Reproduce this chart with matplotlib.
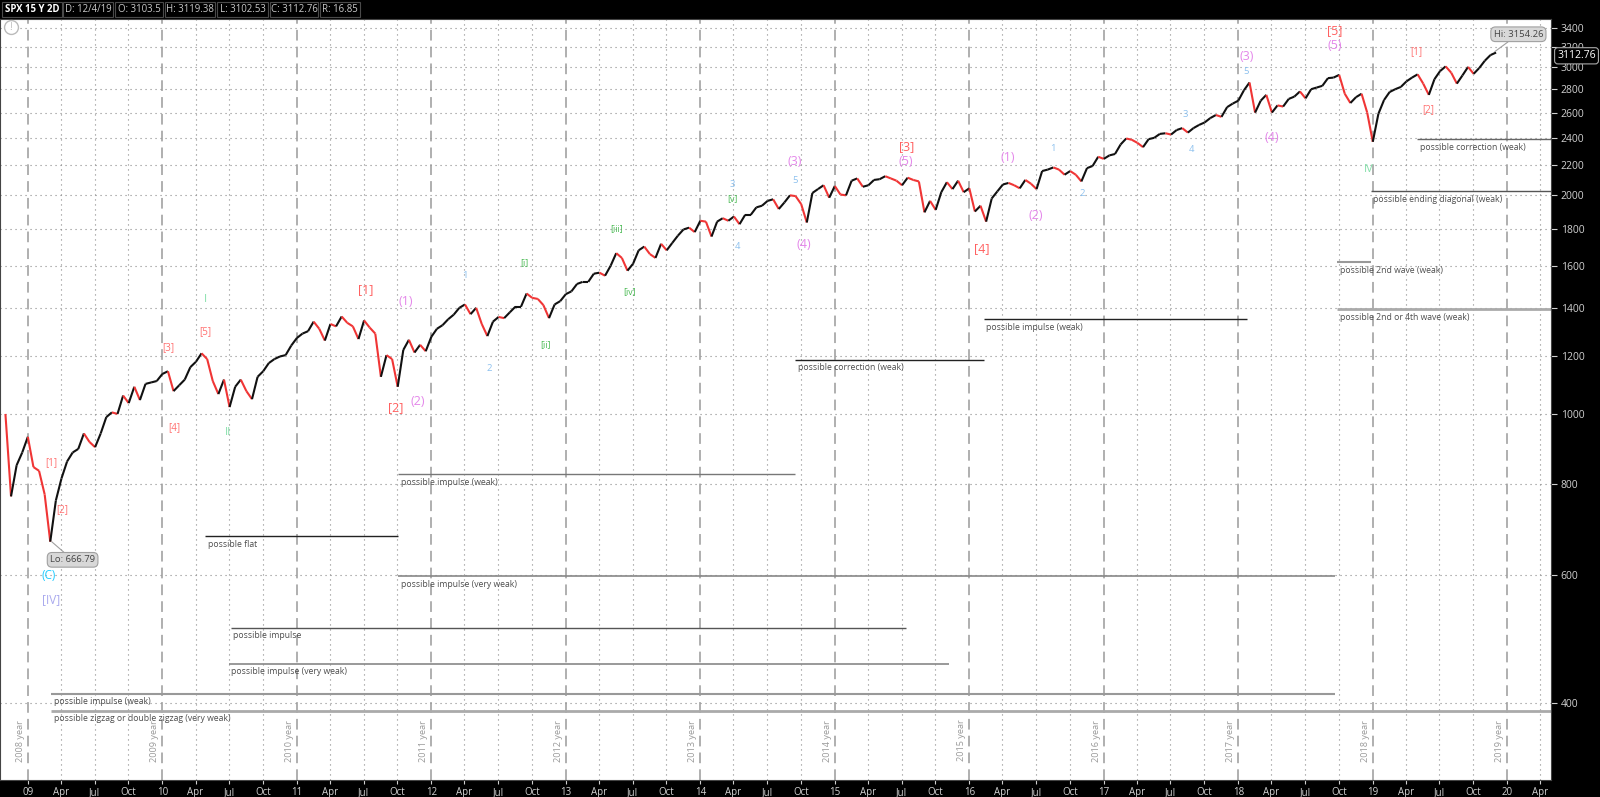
import numpy as np
import matplotlib.pyplot as plt
from matplotlib.collections import LineCollection
from matplotlib.patches import Rectangle
from matplotlib.ticker import NullLocator

plt.rcParams['font.family'] = ['Open Sans', 'DejaVu Sans']

spx_2008 = [1000, 770, 850, 885]
spx_2009 = [930, 845, 835, 775, 667, 760, 815, 860, 885, 895, 940, 915,
            900, 940, 990, 1005, 1000, 1060, 1035, 1090, 1045, 1100, 1105, 1110]
spx_2010 = [1135, 1145, 1075, 1095, 1115, 1160, 1180, 1212, 1190, 1110, 1065, 1115,
            1022, 1090, 1115, 1075, 1048, 1125, 1145, 1175, 1190, 1200, 1205, 1242]
spx_2011 = [1272, 1290, 1300, 1340, 1310, 1262, 1330, 1320, 1362, 1335, 1320, 1268,
            1345, 1315, 1290, 1125, 1205, 1190, 1090, 1225, 1265, 1215, 1245, 1220]
spx_2012 = [1277, 1310, 1325, 1350, 1370, 1400, 1415, 1372, 1400, 1330, 1280, 1340,
            1360, 1355, 1380, 1405, 1405, 1465, 1445, 1440, 1412, 1355, 1415, 1430]
spx_2013 = [1462, 1475, 1510, 1520, 1520, 1560, 1565, 1550, 1600, 1665, 1640, 1575,
            1610, 1680, 1700, 1660, 1640, 1715, 1680, 1720, 1760, 1795, 1805, 1780]
spx_2014 = [1845, 1840, 1755, 1840, 1860, 1845, 1870, 1825, 1880, 1880, 1925, 1935,
            1965, 1975, 1915, 1955, 2000, 1995, 1945, 1835, 2015, 2040, 2065, 1985]
spx_2015 = [2060, 2005, 2000, 2095, 2110, 2055, 2065, 2100, 2105, 2125, 2110, 2095,
            2065, 2115, 2100, 2090, 1895, 1965, 1910, 2020, 2085, 2040, 2095, 2020]
spx_2016 = [2045, 1900, 1935, 1840, 1980, 2025, 2070, 2080, 2065, 2045, 2100, 2075,
            2040, 2160, 2170, 2185, 2170, 2135, 2160, 2135, 2090, 2180, 2195, 2260]
spx_2017 = [2245, 2270, 2280, 2350, 2395, 2385, 2362, 2330, 2390, 2400, 2430, 2435,
            2425, 2460, 2475, 2440, 2475, 2500, 2520, 2555, 2580, 2565, 2645, 2675]
spx_2018 = [2700, 2790, 2860, 2600, 2700, 2750, 2600, 2660, 2650, 2715, 2735, 2780,
            2720, 2800, 2815, 2830, 2900, 2905, 2930, 2760, 2680, 2730, 2760, 2600]
spx_2019 = [2370, 2590, 2705, 2775, 2800, 2820, 2870, 2905, 2935, 2850, 2750, 2890,
            2965, 3010, 2950, 2850, 2925, 3005, 2940, 2995, 3065, 3120, 3145]

price_levels = [400, 600, 800, 1000, 1200, 1400, 1600, 1800, 2000, 2200, 2400,
                2600, 2800, 3000, 3200, 3400]
grid_years = list(range(2009, 2021))
quarter_names = ['Apr', 'Jul', 'Oct']
quarter_pos = [0.2466, 0.4959, 0.7479]

lo_value, lo_time = 666.79, 2009.178
hi_value, hi_time = 3154.26, 2019.907
last_close = 3112.76

header_text = ['SPX 15 Y 2D', 'D: 12/4/19', 'O: 3103.5', 'H: 3119.38',
               'L: 3102.53', 'C: 3112.76', 'R: 16.85']
header_left = [2, 63, 115, 165, 217, 270, 320]
header_right = [62, 113, 163, 215, 268, 318, 360]

# wave labels: text, time, price
red_small = [('[1]', 2009.173, 856), ('[2]', 2009.256, 738), ('[3]', 2010.045, 1235),
             ('[4]', 2010.091, 959), ('[5]', 2010.318, 1300),
             ('[1]', 2019.324, 3159), ('[2]', 2019.415, 2626)]
red_big = [('[1]', 2011.509, 1485), ('[2]', 2011.737, 1020), ('[3]', 2015.531, 2338),
           ('[4]', 2016.092, 1690), ('[5]', 2018.717, 3371)]
violet = [('(1)', 2011.813, 1429), ('(2)', 2011.896, 1040), ('(3)', 2014.704, 2227),
          ('(4)', 2014.772, 1713), ('(5)', 2015.531, 2227), ('(1)', 2016.289, 2256),
          ('(2)', 2016.494, 1876), ('(3)', 2018.065, 3108), ('(4)', 2018.247, 2406),
          ('(5)', 2018.717, 3221)]
blue = [('1', 2012.253, 1549), ('2', 2012.427, 1154), ('3', 2014.241, 2067),
        ('4', 2014.279, 1702), ('5', 2014.704, 2094), ('1', 2016.623, 2322),
        ('2', 2016.843, 2014), ('3', 2017.602, 2585), ('4', 2017.655, 2315),
        ('5', 2018.057, 2961)]
green = [('[i]', 2012.693, 1616), ('[ii]', 2012.852, 1247), ('[iii]', 2013.376, 1798),
         ('[iv]', 2013.475, 1476), ('[v]', 2014.241, 1982)]
mint = [('I', 2010.318, 1438), ('II', 2010.485, 944), ('III', 2018.717, 3573),
        ('IV', 2018.967, 2170)]

# pattern lines: label, start, end, price, colour, width
t_end = 2020.33
pattern_lines = [
    ('possible flat', 2010.318, 2011.752, 679, '#222222', 1.0),
    ('possible impulse (weak)', 2011.752, 2014.704, 826, '#777777', 1.0),
    ('possible impulse (very weak)', 2011.752, 2018.717, 598, '#888888', 1.2),
    ('possible impulse', 2010.508, 2015.531, 508, '#555555', 1.0),
    ('possible impulse (very weak)', 2010.493, 2015.849, 453, '#888888', 1.2),
    ('possible impulse (weak)', 2009.173, 2018.717, 412, '#999999', 1.5),
    ('possible zigzag or double zigzag (very weak)', 2009.173, t_end, 390, '#aaaaaa', 2.0),
    ('possible correction (weak)', 2014.704, 2016.107, 1188, '#222222', 1.0),
    ('possible impulse (weak)', 2016.107, 2018.065, 1351, '#222222', 1.0),
    ('possible 2nd or 4th wave (weak)', 2018.732, t_end, 1393, '#aaaaaa', 2.0),
    ('possible 2nd wave (weak)', 2018.732, 2018.983, 1617, '#999999', 1.5),
    ('possible ending diagonal (weak)', 2018.983, t_end, 2026, '#555555', 1.0),
    ('possible correction (weak)', 2019.332, t_end, 2389, '#666666', 1.0),
]

closes = np.array(spx_2008 + spx_2009 + spx_2010 + spx_2011 + spx_2012 + spx_2013
                  + spx_2014 + spx_2015 + spx_2016 + spx_2017 + spx_2018 + spx_2019,
                  dtype=float)
t = 2008 + 10 / 12 + np.arange(len(closes)) / 24

fig = plt.figure(figsize=(16, 7.97), dpi=100, facecolor='black')
ax = fig.add_axes([0, 17 / 797, 1551 / 1600, 761 / 797])
ax.set_facecolor('white')
ax.set_yscale('log')
ax.set_xlim(2008.793, 2020.325)
ax.set_ylim(313.3, 3498)

# grid
for p in price_levels:
    ax.axhline(p, color='#8a8a8a', ls=(0, (1, 3.5)), lw=0.8, zorder=1)
for yr in range(2008, 2021):
    for q in quarter_pos:
        ax.axvline(yr + q, color='#8a8a8a', ls=(0, (1, 3.5)), lw=0.8, zorder=1)
for yr in grid_years:
    ax.axvline(yr, color='#9a9a9a', ls=(0, (7, 4)), lw=1.1, zorder=1)
    ax.text(yr - 0.055, 355, '%d year' % (yr - 1), rotation=90, ha='center',
            va='center', fontsize=6.6, color='#999999')

# price line, red when falling
pts = np.column_stack([t, closes])
segs = np.stack([pts[:-1], pts[1:]], axis=1)
cols = np.where(np.diff(closes) < 0, '#f03535', '#111111')
ax.add_collection(LineCollection(segs, colors=cols, linewidths=1.5, zorder=3))

# pattern lines
for label, x0, x1, y, c, lw in pattern_lines:
    ax.hlines(y, x0, x1, colors=c, lw=lw, zorder=2)
    ax.annotate(label, (x0, y), xytext=(2, -2.5), textcoords='offset points',
                ha='left', va='top', fontsize=6.2, color='#4d4d4d', zorder=4)

# wave labels
def put(labels, color, size):
    for s, x, y in labels:
        ax.text(x, y, s, color=color, fontsize=size, ha='center', va='center',
                clip_on=True, zorder=5)

put(red_small, '#ff7070', 7)
put(red_big, '#ff6060', 9)
put(violet, '#e487ea', 9)
put(blue, '#8cc0ee', 6.8)
put(green, '#45b84f', 6.3)
put(mint, '#85e0aa', 8)
ax.text(2009.157, 600, '(C)', color='#22ccff', fontsize=8.5, ha='center', va='center')
ax.text(2009.173, 555, '[IV]', color='#a9a9ee', fontsize=8.5, ha='center', va='center')

# hi / lo callouts
box = dict(boxstyle='round,pad=0.3,rounding_size=0.5', fc='#d8d8d8', ec='#a0a0a0', lw=0.8)
ax.annotate('Lo: %.2f' % lo_value, (lo_time, lo_value), xytext=(15, -13),
            textcoords='offset points', ha='center', va='center', fontsize=6.8,
            color='#444444', bbox=box, zorder=6,
            arrowprops=dict(arrowstyle='-', color='#a0a0a0', lw=0.8, shrinkA=0, shrinkB=0))
ax.annotate('Hi: %.2f' % hi_value, (hi_time, hi_value), xytext=(17, 12.5),
            textcoords='offset points', ha='center', va='center', fontsize=6.8,
            color='#444444', bbox=box, zorder=6,
            arrowprops=dict(arrowstyle='-', color='#a0a0a0', lw=0.8, shrinkA=0, shrinkB=0))

# alert icon top-left
ax.plot([0.007], [0.989], marker='o', ms=10, mfc='white', mec='#bbbbbb', mew=1,
        transform=ax.transAxes, clip_on=False, zorder=6)
ax.text(0.007, 0.989, '!', transform=ax.transAxes, ha='center', va='center',
        fontsize=7, color='#bbbbbb', zorder=7)

# axes styling
ax.yaxis.tick_right()
ax.yaxis.set_minor_locator(NullLocator())
ax.set_yticks(price_levels)
ax.set_yticklabels([str(p) for p in price_levels])
ax.tick_params(axis='y', colors='#d0d0d0', labelsize=7.5, length=4, pad=3)

xt, xl = [], []
for yr in range(2009, 2021):
    xt.append(yr)
    xl.append('%02d' % (yr % 100))
    for q, name in zip(quarter_pos, quarter_names):
        if yr + q < 2020.32:
            xt.append(yr + q)
            xl.append(name)
ax.xaxis.set_minor_locator(NullLocator())
ax.set_xticks(xt)
ax.set_xticklabels(xl)
ax.tick_params(axis='x', colors='#d0d0d0', labelsize=7, length=3, pad=2)
for sp in ax.spines.values():
    sp.set_color('#444444')

# last close tag on the price axis
ax.annotate('%.2f' % last_close, (1.004, last_close), xycoords=('axes fraction', 'data'),
            ha='left', va='center', fontsize=7.5, color='white', zorder=8,
            annotation_clip=False,
            bbox=dict(boxstyle='round,pad=0.25,rounding_size=0.3', fc='black',
                      ec='#aaaaaa', lw=0.8))

# header bar
for i, (s, x0, x1) in enumerate(zip(header_text, header_left, header_right)):
    fig.patches.append(Rectangle((x0 / 1600, 1 - 17 / 797), (x1 - x0) / 1600, 15 / 797,
                                 transform=fig.transFigure, fc='black',
                                 ec='#4a4a4a', lw=0.8))
    fig.text((x0 + x1) / 2 / 1600, 1 - 9.5 / 797, s, ha='center', va='center',
             fontsize=6.9, color='white' if i == 0 else '#c8c8c8',
             fontweight='bold' if i == 0 else 'normal')

fig.savefig('out.png', dpi=100, facecolor='black')
